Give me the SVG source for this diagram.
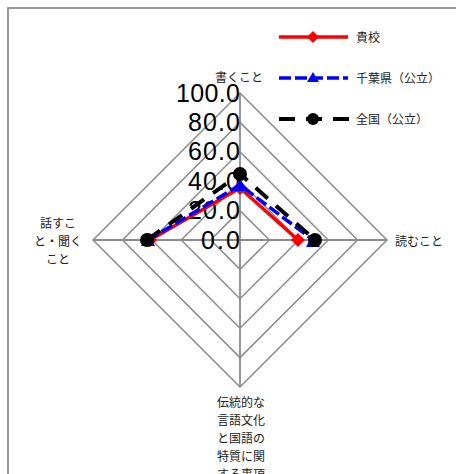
<svg xmlns="http://www.w3.org/2000/svg" width="456" height="474" viewBox="0 0 456 474">
<style>
.grid{fill:none;stroke:#8c8c8c;stroke-width:1.5}
.spoke{stroke:#8c8c8c;stroke-width:1.8}
.num{font-family:"Liberation Sans Narrow","Liberation Sans",sans-serif;font-size:25px;fill:#000;text-anchor:end}
.lab{font-family:"Noto Sans CJK JP",sans-serif;font-size:12px;fill:#222}
.mid{text-anchor:middle}
.red{fill:none;stroke:#ff0000;stroke-width:3.5;stroke-linejoin:round}
.blue{fill:none;stroke:#0000ff;stroke-width:3.5;stroke-dasharray:12 4}
.black{fill:none;stroke:#000;stroke-width:4;stroke-dasharray:16 11}
</style>
<rect x="0" y="0" width="456" height="474" fill="#fff"/>
<rect x="8" y="8" width="470" height="490" fill="none" stroke="#888" stroke-width="1.7"/>
<g id="grid">
<polygon class="grid" points="240,210.6 269.4,240 240,269.4 210.6,240"/>
<polygon class="grid" points="240,181.2 298.8,240 240,298.8 181.2,240"/>
<polygon class="grid" points="240,151.8 328.2,240 240,328.2 151.8,240"/>
<polygon class="grid" points="240,122.4 357.6,240 240,357.6 122.4,240"/>
<polygon class="grid" points="240,93 387,240 240,387 93,240"/>
<line class="spoke" x1="240" y1="93" x2="240" y2="387"/>
<line class="spoke" x1="93" y1="240" x2="387" y2="240"/>
</g>
<g id="axis-values">
<text class="num" x="240" y="101.5" textLength="64" lengthAdjust="spacing">100.0</text>
<text class="num" x="240" y="131" textLength="52" lengthAdjust="spacing">80.0</text>
<text class="num" x="240" y="160.3" textLength="52" lengthAdjust="spacing">60.0</text>
<text class="num" x="240" y="189.7" textLength="52" lengthAdjust="spacing">40.0</text>
<text class="num" x="240" y="219.1" textLength="52" lengthAdjust="spacing">20.0</text>
<text class="num" x="240" y="248.5" textLength="39" lengthAdjust="spacing">0.0</text>
</g>
<g id="axis-labels">
<text id="label-write" class="lab" x="215" y="82">書くこと</text>
<text id="label-read" class="lab" x="395" y="246">読むこと</text>
<text id="label-speak" class="lab mid"><tspan x="58" y="228">話すこ</tspan><tspan x="58" y="246">と・聞く</tspan><tspan x="58" y="264">こと</tspan></text>
<text id="label-trad" class="lab mid"><tspan x="241" y="407">伝統的な</tspan><tspan x="241" y="425">言語文化</tspan><tspan x="241" y="443">と国語の</tspan><tspan x="241" y="461">特質に関</tspan><tspan x="241" y="479">する事項</tspan></text>
</g>
<g id="connectors">
<g id="series-school">
<polyline class="red" points="150,240 240,188 298,240"/>
<polygon points="150,233 157,240 150,247 143,240" fill="#ff0000"/>
<polygon points="240,181 247,188 240,195 233,188" fill="#ff0000"/>
<polygon points="298,233 305,240 298,247 291,240" fill="#ff0000"/>
</g>
<g id="series-chiba">
<polyline class="blue" points="148,240 240,185 313,240"/>
<polygon points="148,233 155,246 141,246" fill="#0000ff"/>
<polygon points="240,178 247,191 233,191" fill="#0000ff"/>
<polygon points="313,234 320,247 306,247" fill="#0000ff"/>
</g>
<g id="series-national">
<polyline class="black" points="147,240 240,174 315,240"/>
<circle cx="147" cy="240" r="7" fill="#000"/>
<circle cx="240" cy="174" r="7" fill="#000"/>
<circle cx="315" cy="240" r="7" fill="#000"/>
</g>
</g>
<g id="legend">
<g id="legend-school">
<line x1="279" y1="37" x2="348" y2="37" stroke="#ff0000" stroke-width="3.5"/>
<polygon points="313,31 319,37 313,43 307,37" fill="#ff0000"/>
<text class="lab" x="356" y="41.5">貴校</text>
</g>
<g id="legend-chiba">
<line x1="279" y1="78" x2="348" y2="78" stroke="#0000ff" stroke-width="3.5" stroke-dasharray="12 4"/>
<polygon points="313,72 319,82 307,82" fill="#0000ff"/>
<text class="lab" x="356" y="82.5">千葉県（公立）</text>
</g>
<g id="legend-national">
<line x1="279" y1="119" x2="349" y2="119" stroke="#000" stroke-width="4" stroke-dasharray="16 11"/>
<circle cx="313" cy="119" r="6" fill="#000"/>
<text class="lab" x="356" y="123.5">全国（公立）</text>
</g>
</g>
</svg>
